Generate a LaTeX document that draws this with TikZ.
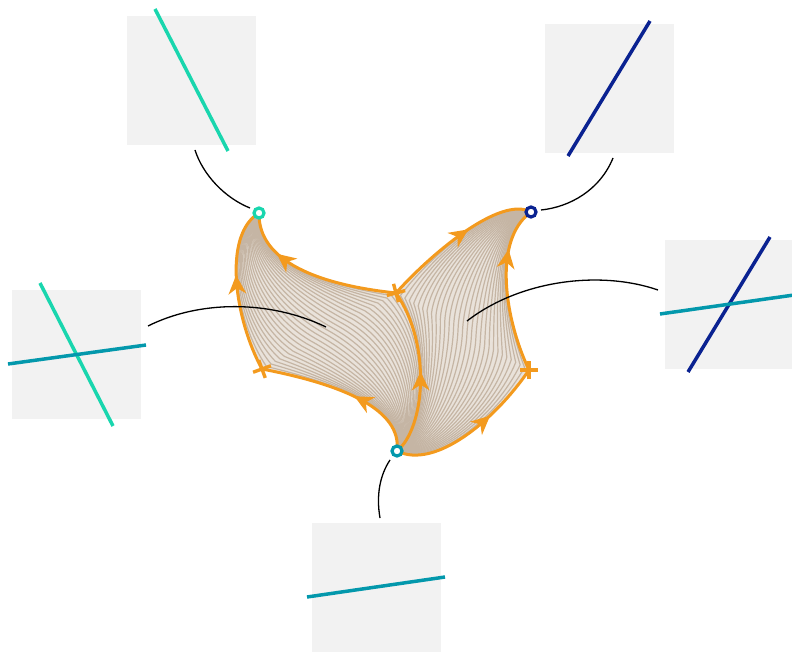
\documentclass[tikz,border=0pt]{standalone}
\usepackage{tikz}
\usetikzlibrary{calc,decorations.markings,shapes.misc}
\definecolor{mint}{HTML}{19D6AE}
\definecolor{navy}{HTML}{0A2291}
\definecolor{petrol}{HTML}{0398AC}
\definecolor{amber}{HTML}{F39A1E}
\definecolor{panelgray}{HTML}{F2F2F2}
\definecolor{patchfill}{HTML}{E9E2DA}
\definecolor{fibrecol}{HTML}{C5B5A4}

\begin{document}
\begin{tikzpicture}[x=1pt,y=-1pt,
	panel/.style={fill=panelgray,minimum size=129pt,inner sep=0pt},
	ray/.style={line width=3.5pt},
	fibre/.style={fibrecol,line width=1.2pt},
	edge/.style={amber,line width=3pt},
	midarrow/.style={postaction={decorate,decoration={markings,mark=at position #1 with {\fill[amber] (6pt,0pt) -- (-13pt,9pt) -- (-7pt,0pt) -- (-13pt,-9pt) -- cycle;}}}},
	crossmk/.style={cross out,draw=amber,line width=3.4pt,minimum size=10pt,inner sep=0pt},
	endpt/.style={circle,fill=white,line width=3.2pt,minimum size=10pt,inner sep=0pt},
	link/.style={black,line width=1.3pt}]
	\useasboundingbox (0,0) rectangle (792,652);
	% panels
	\node[panel] (pTL) at (191.5,80.5) {};
	\node[panel] (pTR) at (609.5,88.5) {};
	\node[panel] (pL) at (76.5,354.5) {};
	\node[panel] (pR) at (729.5,304.5) {};
	\node[panel] (pB) at (376.5,587.5) {};
	\draw[ray,mint] (155,9) -- (228,151);
	\draw[ray,navy] (568,156) -- (650,21);
	\draw[ray,mint] (40,283) -- (113,426);
	\draw[ray,petrol] (8,364) -- (146,345);
	\draw[ray,navy] (688,372) -- (770,237);
	\draw[ray,petrol] (660,314) -- (794,295);
	\draw[ray,petrol] (307,597) -- (445,577);
	% corners and control points
	\coordinate (C) at (397,451);
	\coordinate (A) at (259,213);
	\coordinate (B) at (531,212);
	\coordinate (P1) at (262,369);
	\coordinate (P2) at (396,293);
	\coordinate (P3) at (529,370);
	\coordinate (c1a) at (402,410); \coordinate (c1b) at (345,385);
	\coordinate (c1c) at (235,320); \coordinate (c1d) at (222,235);
	\coordinate (c2a) at (425,428); \coordinate (c2b) at (432,345);
	\coordinate (c2c) at (320,285); \coordinate (c2d) at (258,262);
	\coordinate (c3a) at (435,470); \coordinate (c3b) at (495,420);
	\coordinate (c3c) at (505,320); \coordinate (c3d) at (492,240);
	\coordinate (c4c) at (430,255); \coordinate (c4d) at (500,195);
	% patches
	\fill[patchfill] (C) .. controls (c1a) and (c1b) .. (P1) .. controls (c1c) and (c1d) .. (A) .. controls (c2d) and (c2c) .. (P2) .. controls (c2b) and (c2a) .. (C) -- cycle;
	\fill[patchfill] (C) .. controls (c3a) and (c3b) .. (P3) .. controls (c3c) and (c3d) .. (B) .. controls (c4d) and (c4c) .. (P2) .. controls (c2b) and (c2a) .. (C) -- cycle;
	\foreach \i in {0,...,30} {
		\pgfmathsetmacro\t{\i/30}
		\pgfmathsetmacro\w{sin(180*\t)}
		% left fibre, corner smoothed
		\coordinate (ci) at ($(c1b)!\t!(c2b)$);
		\coordinate (co) at ($(c1c)!\t!(c2c)$);
		\coordinate (pt) at ($(P1)!\t!(P2)$);
		\coordinate (m) at ($(ci)!0.5!(co)$);
		\draw[fibre] (C) .. controls ($(c1a)!\t!(c2a)$) and ($(ci)+\w*(pt)-\w*(m)$) .. (pt) .. controls ($(co)+\w*(pt)-\w*(m)$) and ($(c1d)!\t!(c2d)$) .. (A);
		% right fibre, corner smoothed
		\coordinate (ri) at ($(c3b)!\t!(c2b)$);
		\coordinate (ro) at ($(c3c)!\t!(c4c)$);
		\coordinate (rt) at ($(P3)!\t!(P2)$);
		\coordinate (rm) at ($(ri)!0.5!(ro)$);
		\draw[fibre] (C) .. controls ($(c3a)!\t!(c2a)$) and ($(ri)+\w*(rt)-\w*(rm)$) .. (rt) .. controls ($(ro)+\w*(rt)-\w*(rm)$) and ($(c3d)!\t!(c4d)$) .. (B);
	}
	% boundary
	\draw[edge,midarrow=0.4] (C) .. controls (c1a) and (c1b) .. (P1);
	\draw[edge,midarrow=0.55] (P1) .. controls (c1c) and (c1d) .. (A);
	\draw[edge,midarrow=0.47] (C) .. controls (c2a) and (c2b) .. (P2);
	\draw[edge,midarrow=0.7] (P2) .. controls (c2c) and (c2d) .. (A);
	\draw[edge,midarrow=0.6] (C) .. controls (c3a) and (c3b) .. (P3);
	\draw[edge,midarrow=0.7] (P3) .. controls (c3c) and (c3d) .. (B);
	\draw[edge,midarrow=0.55] (P2) .. controls (c4c) and (c4d) .. (B);
	\node[crossmk,rotate=65] (x1) at (P1) {};
	\node[crossmk,rotate=60] (x2) at (P2) {};
	\node[crossmk,rotate=45] (x3) at (P3) {};
	\node[endpt,draw=mint] (a) at (A) {};
	\node[endpt,draw=navy] (b) at (B) {};
	\node[endpt,draw=petrol] (c) at (C) {};
	% links to panels
	\coordinate (lTL) at (195,150); \coordinate (lTR) at (613,158);
	\coordinate (lL) at (148,326); \coordinate (lR) at (658,290);
	\coordinate (lB) at (380,518);
	\coordinate (hL) at (326,327); \coordinate (hR) at (467,321);
	\draw[link] (lTL) .. controls (203,175) and (225,198) .. ($(a)+(-9,-5)$);
	\draw[link] (lTR) .. controls (600,190) and (570,207) .. ($(b)+(10,-2)$);
	\draw[link] (lL) .. controls (200,300) and (270,300) .. (hL);
	\draw[link] (lR) .. controls (600,270) and (520,280) .. (hR);
	\draw[link] (lB) .. controls (376,495) and (380,475) .. ($(c)+(-7,9)$);
\end{tikzpicture}
\end{document}
